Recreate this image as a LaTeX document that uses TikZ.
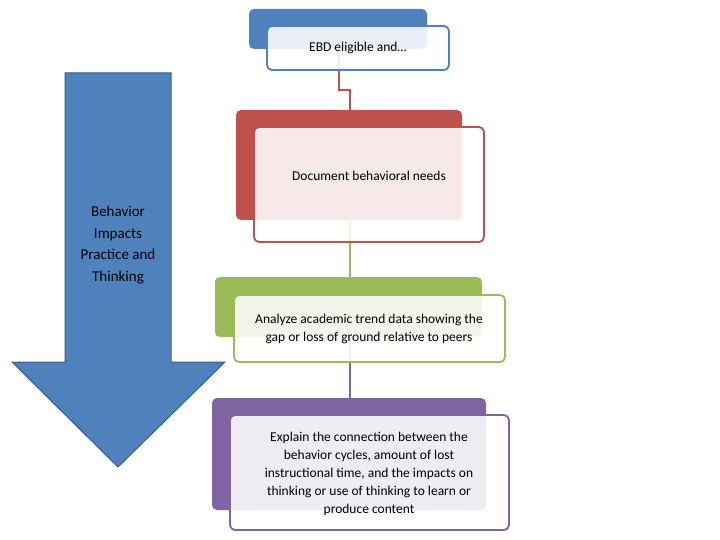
\documentclass[tikz,border=0pt]{standalone}
\usepackage{fontspec}
\setmainfont{Carlito}
\definecolor{cb}{HTML}{4F81BD}\definecolor{cbd}{HTML}{385D8A}
\definecolor{cr}{HTML}{C0504D}\definecolor{cg}{HTML}{9BBB59}\definecolor{cp}{HTML}{8064A2}
\begin{document}
\begin{tikzpicture}[x=1pt,y=-1pt,
  back/.style={rounded corners=5pt},
  front/.style={rounded corners=5pt,line width=1.8pt,fill=white,fill opacity=0.88},
  txt/.style={align=center,font=\fontsize{13.5}{18}\selectfont,text opacity=1}]
\useasboundingbox (0,0) rectangle (720,540);
% connectors
\draw[cr,line width=2pt] (339,55) -- (339,90) -- (350,90) -- (350,110);
\draw[cg,line width=2pt] (350,220) -- (350,277);
\draw[cp,line width=2pt] (350,337) -- (350,398);
% group 1
\fill[cb,back] (249,9) rectangle (427,49);
\draw[cb,front] (267,26) rectangle (449,70);
\node[txt] (t1) at (358,48) {EBD eligible and…};
% group 2
\fill[cr,back] (236,110) rectangle (462,220);
\draw[cr,front] (254,127) rectangle (484,242);
\node[txt] (t2) at (369,176) {Document behavioral needs};
% group 3
\fill[cg,back] (215,277) rectangle (482,337);
\draw[cg,front] (234,295) rectangle (505,362);
\node[txt] (t3) at (369,329) {Analyze academic trend data showing the\\gap or loss of ground relative to peers};
% group 4
\fill[cp,back] (212,398) rectangle (486,510);
\draw[cp,front] (230,415) rectangle (509,530);
\node[txt] (t4) at (369,474) {Explain the connection between the\\behavior cycles, amount of lost\\instructional time, and the impacts on\\thinking or use of thinking to learn or\\produce content};
% arrow
\draw[fill=cb,draw=cbd,line width=1pt] (65,73) -- (171,73) -- (171,362) -- (225,362) -- (118,467) -- (12,362) -- (65,362) -- cycle;
\node[txt,font=\fontsize{15}{21.5}\selectfont] (a) at (118,245) {Behavior\\Impacts\\Practice and\\Thinking};
\end{tikzpicture}
\end{document}
